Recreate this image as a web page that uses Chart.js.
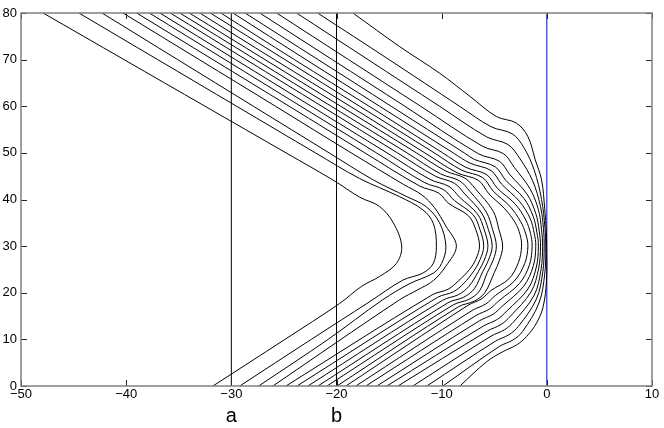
<!DOCTYPE html>
<html>
<head>
<meta charset="utf-8">
<script src="https://cdn.jsdelivr.net/npm/chart.js@4.4.1/dist/chart.umd.min.js"></script>
<style>
  body { margin: 0; background: #fff; }
  canvas { display: block; }
</style>
</head>
<body>
<canvas id="chart" width="664" height="428"></canvas>
<script>
// contour curves, each traced from the top edge (y=80) round the tip at y=30 down to y=0
const c01 = [[-47.9,80],[-40.2,70],[-32.5,60],[-24.8,50],[-20.2,44],[-17.8,40.5],[-15.9,38.5],[-14.6,35],[-13.8,30],[-14.3,26.3],[-15.9,23.5],[-17.6,21.4],[-19.7,17.7],[-24.9,10],[-31.75,0]];
const c02 = [[-44.5,80],[-37.0,70],[-29.5,60],[-22.0,50],[-17.8,44.5],[-14.0,40.6],[-11.8,37.8],[-10.8,34.9],[-10.5,30],[-10.8,26.3],[-11.8,24.2],[-13.7,22.7],[-16.9,18],[-22.4,10],[-29.2,0]];
const c03 = [[-42.3,80],[-35.1,70],[-27.9,60],[-20.7,50],[-16.5,44.2],[-13.3,40.6],[-11.5,38.5],[-10.2,35],[-9.6,30],[-10.0,26.3],[-10.8,24.2],[-13.0,22.0],[-15.6,18.5],[-20.8,10],[-27.4,0]];
const c04 = [[-40.3,80],[-33.05,70],[-25.8,60],[-18.6,50],[-13.6,43.2],[-11.9,41],[-10.7,38.3],[-9.6,34.3],[-8.6,30],[-9.6,25.7],[-10.8,22.6],[-12.3,20.6],[-14.0,18.5],[-26.05,0]];
const c05 = [[-39.0,80],[-31.75,70],[-24.5,60],[-17.3,50],[-12.1,42.9],[-10.3,41.4],[-9.3,39.1],[-7.45,36.5],[-6.75,33.5],[-6.4,30],[-6.75,27.2],[-7.35,25.0],[-8.4,22.55],[-9.4,20.75],[-10.9,19.55],[-24.81,0]];
const c06 = [[-37.8,80],[-30.6,70],[-23.4,60],[-16.2,50],[-11.6,43.6],[-9.8,42.1],[-8.8,39.8],[-7.0,36.7],[-6.35,33.5],[-6.0,30],[-6.35,27.1],[-6.9,24.8],[-7.9,22.0],[-8.9,20.2],[-10.4,19.0],[-23.76,0]];
const c07 = [[-36.8,80],[-29.6,70],[-22.4,60],[-15.2,50],[-11.1,44.3],[-9.3,42.8],[-8.3,40.5],[-6.6,36.9],[-5.95,33.5],[-5.6,30],[-5.95,27],[-6.5,24.6],[-7.4,21.4],[-8.4,19.6],[-9.9,18.4],[-22.72,0]];
const c08 = [[-35.8,80],[-28.6,70],[-21.4,60],[-14.2,50],[-10.6,45.0],[-8.8,43.5],[-7.8,41.2],[-6.2,37.1],[-5.55,33.5],[-5.2,30],[-5.55,27],[-6.1,24.5],[-6.9,20.85],[-7.9,19.05],[-9.4,17.85],[-21.77,0]];
const c09 = [[-34.9,80],[-27.7,70],[-20.5,60],[-13.3,50],[-10.1,45.5],[-8.3,44.0],[-7.3,41.7],[-5.75,37.3],[-5.15,33.5],[-4.8,30],[-5.1,27],[-5.65,24.4],[-6.4,20.4],[-7.4,18.6],[-8.9,17.4],[-20.91,0]];
const c10 = [[-34.0,80],[-26.8,70],[-19.6,60],[-12.4,50],[-9.6,46.1],[-7.8,44.6],[-6.8,42.3],[-5.1,37.5],[-4.55,33.5],[-4.2,30],[-4.5,27],[-5.0,24.3],[-5.9,20.0],[-6.9,18.2],[-8.4,17.0],[-19.96,0]];
const c11 = [[-33.0,80],[-25.9,70],[-18.7,60],[-11.6,50],[-8.5,45.7],[-6.5,44.1],[-5.5,41.2],[-4.0,38.0],[-3.0,35.0],[-2.55,32.5],[-2.4,30],[-2.7,26.5],[-3.6,23.0],[-5.3,20.5],[-6.2,18.7],[-7.5,17.3],[-19.11,0]];
const c12 = [[-32.0,80],[-24.9,70],[-17.8,60],[-10.7,50],[-8.1,46.3],[-6.1,44.7],[-5.1,41.8],[-3.5,38.5],[-2.5,35.3],[-2.0,32.6],[-1.8,30],[-2.1,26.3],[-3.1,22.5],[-4.9,19.4],[-5.8,17.6],[-7.1,16.2],[-18.16,0]];
const c13 = [[-31.0,80],[-24.0,70],[-16.9,60],[-9.9,50],[-7.7,46.9],[-5.7,45.3],[-4.7,42.4],[-3.0,39.0],[-2.0,35.6],[-1.55,32.7],[-1.4,30],[-1.65,26],[-2.6,22],[-4.55,18.3],[-5.45,16.5],[-6.75,15.1],[-17.21,0]];
const c14 = [[-29.85,80],[-22.9,70],[-15.9,60],[-8.9,50],[-7.3,47.8],[-5.3,46.2],[-4.3,43.3],[-2.6,39.6],[-1.6,36.0],[-1.2,32.8],[-1.05,30],[-1.28,25.8],[-2.2,21.4],[-4.2,17.2],[-5.1,15.4],[-6.4,14.0],[-16.16,0]];
const c15 = [[-28.7,80],[-21.75,70],[-14.8,60],[-7.85,50],[-6.9,48.6],[-4.9,47.0],[-3.9,44.1],[-2.2,40.3],[-1.3,36.4],[-0.95,33],[-0.8,30],[-1.0,25.5],[-1.8,20.8],[-3.8,16.1],[-4.7,14.3],[-6.0,12.9],[-15.21,0]];
const c16 = [[-27.3,80],[-20.4,70],[-13.5,60],[-6.5,49.8],[-4.5,48.2],[-3.5,45.3],[-1.9,41.2],[-1.05,37.0],[-0.72,33.2],[-0.6,30],[-0.78,25.2],[-1.5,20.2],[-3.45,15.0],[-4.35,13.2],[-5.65,11.8],[-14.16,0]];
const c17 = [[-25.7,80],[-18.85,70],[-12.0,60],[-6.1,51.4],[-4.1,49.8],[-3.1,46.9],[-1.6,42.3],[-0.8,37.8],[-0.5,33.5],[-0.4,30],[-0.55,25],[-1.2,19.5],[-3.1,13.9],[-4.0,12.1],[-5.3,10.7],[-12.74,0]];
const c18 = [[-23.8,80],[-17.0,70],[-10.2,60],[-5.7,53.4],[-3.7,51.8],[-2.6,48.9],[-1.35,44],[-0.6,38.5],[-0.32,33.8],[-0.25,30],[-0.38,24.5],[-1.0,18.6],[-2.7,12.8],[-3.6,11.0],[-4.9,9.6],[-11.41,0]];
const c19 = [[-21.8,80],[-15.0,70],[-8.3,60],[-5.3,55.6],[-3.3,54.1],[-2.2,51.2],[-1.2,46.3],[-0.5,40],[-0.18,34],[-0.1,30],[-0.2,24],[-0.75,17.8],[-2.3,11.7],[-3.2,9.9],[-4.5,8.5],[-9.89,0]];
const c20 = [[-18.44,80],[-14.0,72.8],[-10.2,67.1],[-7.3,62.1],[-4.8,57.8],[-2.9,56.4],[-1.8,53.5],[-1.1,48.5],[-0.5,44.2],[-0.2,38],[-0.05,33],[-0.02,30],[-0.03,22.7],[-0.35,17.0],[-0.98,13.5],[-1.93,10.6],[-2.88,8.8],[-4.15,7.4],[-5.73,5.2],[-8.27,0]];
const curves = [c01,c02,c03,c04,c05,c06,c07,c08,c09,c10,c11,c12,c13,c14,c15,c16,c17,c18,c19,c20];

// vertical marker lines and their labels
const markerX = [-30, -20];
const markerLabels = ['a', 'b'];
const boundaryX = 0;

const toXY = pts => pts.map(p => ({x: p[0], y: p[1]}));

const datasets = curves.map(c => ({
    data: toXY(c),
    showLine: true,
    borderColor: '#000',
    borderWidth: 1,
    pointRadius: 0,
    tension: 0.35
}));
markerX.forEach(x => datasets.push({
    data: [{x: x, y: 0}, {x: x, y: 80}],
    showLine: true, borderColor: '#000', borderWidth: 1, pointRadius: 0
}));
datasets.push({
    data: [{x: boundaryX, y: 0}, {x: boundaryX, y: 80}],
    showLine: true, borderColor: '#0000ff', borderWidth: 1, pointRadius: 0
});

// box round the plot with inward ticks on all four sides, plus the a / b labels
const frame = {
    id: 'frame',
    afterDatasetsDraw(chart) {
        const {ctx, chartArea: a, scales: {x, y}} = chart;
        ctx.save();
        ctx.strokeStyle = '#262626';
        ctx.lineWidth = 1;
        ctx.beginPath();
        x.ticks.forEach(t => {
            const px = Math.round(x.getPixelForValue(t.value)) + 0.5;
            ctx.moveTo(px, a.bottom); ctx.lineTo(px, a.bottom - 6);
            ctx.moveTo(px, a.top); ctx.lineTo(px, a.top + 6);
        });
        y.ticks.forEach(t => {
            const py = Math.round(y.getPixelForValue(t.value)) + 0.5;
            ctx.moveTo(a.left, py); ctx.lineTo(a.left + 6, py);
            ctx.moveTo(a.right, py); ctx.lineTo(a.right - 6, py);
        });
        ctx.stroke();
        ctx.strokeStyle = '#808080';
        ctx.lineWidth = 1.5;
        ctx.strokeRect(a.left, a.top, a.right - a.left, a.bottom - a.top);
        ctx.fillStyle = '#000';
        ctx.font = '20px "Liberation Sans", Arial, sans-serif';
        ctx.textAlign = 'center';
        ctx.textBaseline = 'alphabetic';
        markerX.forEach((v, i) => ctx.fillText(markerLabels[i], x.getPixelForValue(v), 422));
        ctx.restore();
    }
};

const minus = v => String(v).replace('-', '\u2212');

new Chart(document.getElementById('chart').getContext('2d'), {
    type: 'scatter',
    data: { datasets: datasets },
    options: {
        responsive: false,
        animation: false,
        layout: { padding: { top: 13, right: 12, left: 0, bottom: 0 } },
        plugins: { legend: { display: false }, tooltip: { enabled: false } },
        scales: {
            x: {
                type: 'linear', min: -50, max: 10,
                afterFit: s => { s.height = 42; },
                grid: { display: false, drawTicks: false },
                border: { display: false },
                ticks: {
                    stepSize: 10, padding: 1, maxRotation: 0,
                    color: '#000',
                    font: { family: '"Liberation Sans", Arial, sans-serif', size: 13 },
                    callback: v => minus(v)
                }
            },
            y: {
                type: 'linear', min: 0, max: 80,
                afterFit: s => { s.width = 21; },
                grid: { display: false, drawTicks: false },
                border: { display: false },
                ticks: {
                    stepSize: 10, padding: 4,
                    color: '#000',
                    font: { family: '"Liberation Sans", Arial, sans-serif', size: 13 }
                }
            }
        }
    },
    plugins: [frame]
});
</script>
</body>
</html>
